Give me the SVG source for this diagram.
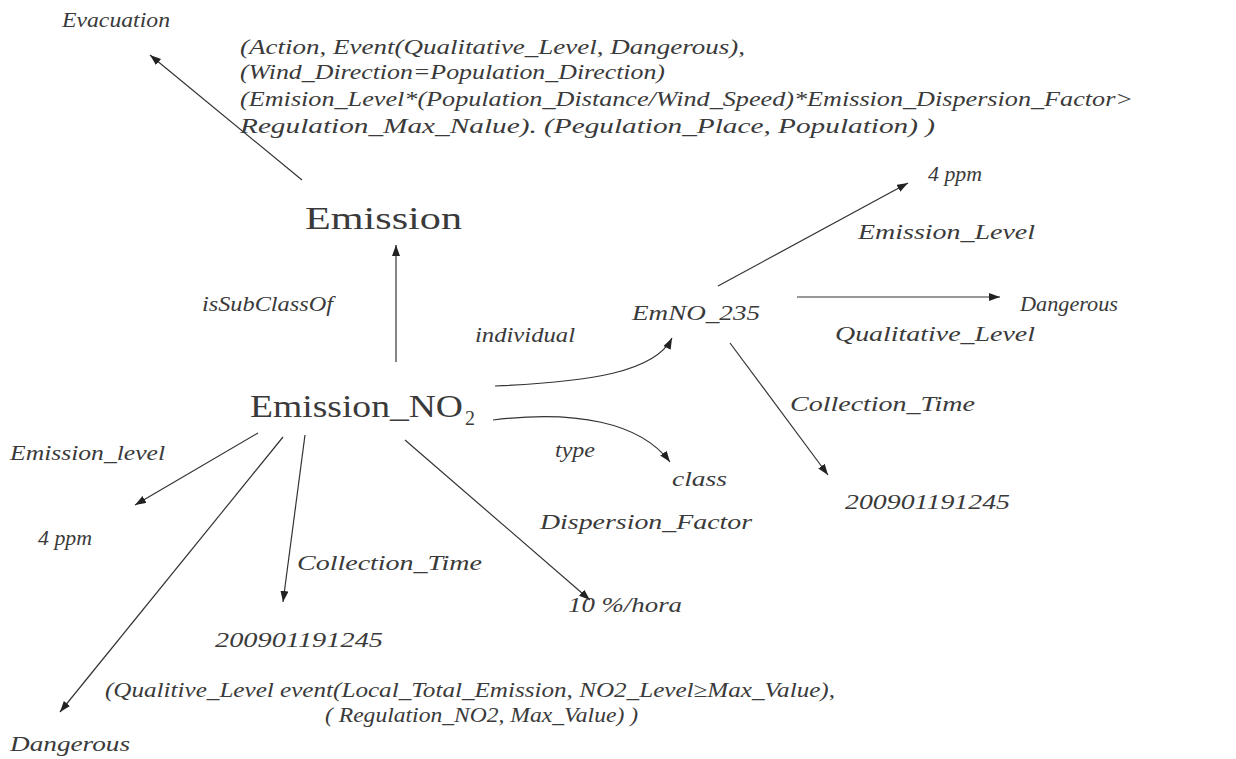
<svg xmlns="http://www.w3.org/2000/svg" width="1236" height="759" viewBox="0 0 1236 759">
<style>
text{font-family:"Liberation Serif","Times New Roman",serif;fill:#3a3a3a}
.i{font-style:italic;font-size:21px}
.n{font-size:32px}
.e{stroke:#333;stroke-width:1.2;fill:none;marker-end:url(#ah)}
</style>
<defs>
<marker id="ah" markerUnits="userSpaceOnUse" markerWidth="12" markerHeight="10" refX="11" refY="4" orient="auto">
<path d="M0,0 L11,4 L0,8 z" fill="#222"/>
</marker>
</defs>
<rect width="1236" height="759" fill="#fff"/>
<g id="connectors">
<line class="e" x1="302" y1="180" x2="150" y2="55"/>
<line class="e" x1="396" y1="362" x2="396" y2="245"/>
<path class="e" d="M495,386 C590,382 655,372 672,338"/>
<path class="e" d="M493,420 C575,410 640,422 670,462"/>
<line class="e" x1="718" y1="286" x2="908" y2="183"/>
<line class="e" x1="797" y1="297" x2="1000" y2="297"/>
<line class="e" x1="730" y1="343" x2="828" y2="475"/>
<line class="e" x1="258" y1="433" x2="135" y2="505"/>
<line class="e" x1="305" y1="435" x2="283" y2="602"/>
<line class="e" x1="283" y1="437" x2="60" y2="712"/>
<line class="e" x1="405" y1="440" x2="590" y2="600"/>
</g>
<g id="evacuation"><text class="i" x="62" y="27" textLength="108" lengthAdjust="spacingAndGlyphs">Evacuation</text></g>
<g id="rule-top">
<text class="i" x="240" y="54" textLength="505" lengthAdjust="spacingAndGlyphs">(Action, Event(Qualitative_Level, Dangerous),</text>
<text class="i" x="240" y="79" textLength="425" lengthAdjust="spacingAndGlyphs">(Wind_Direction=Population_Direction)</text>
<text class="i" x="240" y="106" textLength="893" lengthAdjust="spacingAndGlyphs">(Emision_Level*(Population_Distance/Wind_Speed)*Emission_Dispersion_Factor&gt;</text>
<text class="i" x="240" y="133" textLength="695" lengthAdjust="spacingAndGlyphs">Regulation_Max_Nalue). (Pegulation_Place, Population) )</text>
</g>
<g id="emission"><text class="n" x="305" y="229" textLength="157" lengthAdjust="spacingAndGlyphs">Emission</text></g>
<g id="label-issubclassof"><text class="i" x="202" y="311" textLength="131" lengthAdjust="spacingAndGlyphs">isSubClassOf</text></g>
<g id="label-individual"><text class="i" x="475" y="342" textLength="100" lengthAdjust="spacingAndGlyphs">individual</text></g>
<g id="emno235"><text class="i" x="632" y="320" textLength="128" lengthAdjust="spacingAndGlyphs">EmNO_235</text></g>
<g id="ppm-right"><text class="i" x="928" y="181" textLength="54" lengthAdjust="spacingAndGlyphs">4 ppm</text></g>
<g id="label-emission-level-right"><text class="i" x="858" y="239" textLength="177" lengthAdjust="spacingAndGlyphs">Emission_Level</text></g>
<g id="dangerous-right"><text class="i" x="1020" y="311" textLength="98" lengthAdjust="spacingAndGlyphs">Dangerous</text></g>
<g id="label-qualitative-level"><text class="i" x="835" y="341" textLength="200" lengthAdjust="spacingAndGlyphs">Qualitative_Level</text></g>
<g id="label-collection-time-right"><text class="i" x="790" y="411" textLength="185" lengthAdjust="spacingAndGlyphs">Collection_Time</text></g>
<g id="time-right"><text class="i" x="845" y="509" textLength="165" lengthAdjust="spacingAndGlyphs">200901191245</text></g>
<g id="emission-no2">
<text class="n" x="250" y="417" textLength="213" lengthAdjust="spacingAndGlyphs">Emission_NO</text>
<text x="465" y="425" font-size="20" textLength="10" lengthAdjust="spacingAndGlyphs">2</text>
</g>
<g id="label-emission-level-left"><text class="i" x="10" y="460" textLength="155" lengthAdjust="spacingAndGlyphs">Emission_level</text></g>
<g id="ppm-left"><text class="i" x="38" y="545" textLength="54" lengthAdjust="spacingAndGlyphs">4 ppm</text></g>
<g id="label-collection-time-left"><text class="i" x="297" y="570" textLength="185" lengthAdjust="spacingAndGlyphs">Collection_Time</text></g>
<g id="time-left"><text class="i" x="215" y="647" textLength="168" lengthAdjust="spacingAndGlyphs">200901191245</text></g>
<g id="dangerous-bottom"><text class="i" x="10" y="751" textLength="120" lengthAdjust="spacingAndGlyphs">Dangerous</text></g>
<g id="label-type"><text class="i" x="555" y="457" textLength="40" lengthAdjust="spacingAndGlyphs">type</text></g>
<g id="class"><text class="i" x="672" y="486" textLength="55" lengthAdjust="spacingAndGlyphs">class</text></g>
<g id="label-dispersion-factor"><text class="i" x="540" y="529" textLength="212" lengthAdjust="spacingAndGlyphs">Dispersion_Factor</text></g>
<g id="hora"><text class="i" x="568" y="612" textLength="114" lengthAdjust="spacingAndGlyphs">10 %/hora</text></g>
<g id="rule-bottom">
<text class="i" x="105" y="697" textLength="730" lengthAdjust="spacingAndGlyphs">(Qualitive_Level event(Local_Total_Emission, NO2_Level≥Max_Value),</text>
<text class="i" x="325" y="722" textLength="313" lengthAdjust="spacingAndGlyphs">( Regulation_NO2, Max_Value) )</text>
</g>
</svg>
